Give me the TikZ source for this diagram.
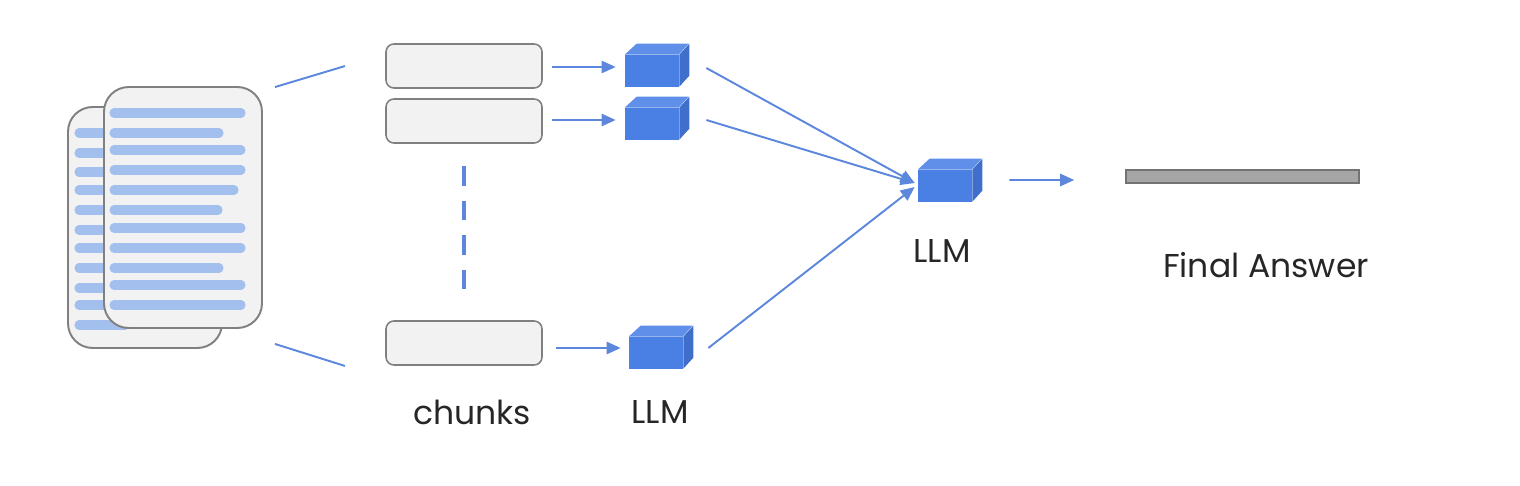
\documentclass[tikz,border=0pt]{standalone}
\usepackage{fontspec}
\setmainfont{Poppins}
\usetikzlibrary{arrows.meta}
\definecolor{llmblue}{HTML}{4A7FE3}
\definecolor{llmtop}{HTML}{5F8FE8}
\definecolor{llmside}{HTML}{3F6FCB}
\definecolor{linkblue}{HTML}{5C87DC}
\definecolor{barblue}{HTML}{A3BFEE}
\tikzset{
	page/.style={draw=black!50,fill=black!5,line width=1.1pt,rounded corners=14pt},
	chunk/.style={draw=black!50,fill=black!5,line width=.9pt,rounded corners=4.5pt,minimum width=3.12cm,minimum height=.88cm},
	cubeface/.style={fill=llmblue,inner sep=0pt,minimum width=1.08cm,minimum height=.64cm},
	link/.style={linkblue,line width=1.1pt},
	arrow/.style={link,-{Triangle[length=8pt,width=7pt]}},
	textbar/.style={barblue,line width=5.2pt,line cap=round},
	label/.style={font=\fontsize{18.8}{22}\selectfont,text=black!85}
}
% front face is the node, top and side are filled round it
\newcommand{\llmcube}[3]{
	\node[cubeface] (#1) at (#2,#3) {};
	\fill[llmtop] (#1.north west) -- ++(12,-11) -- ++(52,0) -- ++(-10,11) -- cycle;
	\fill[llmside] (#1.north east) -- ++(10,-11) -- ++(0,32) -- ++(-10,11) -- cycle;
}
\begin{document}
\begin{tikzpicture}[x=0.02cm,y=-0.02cm]
	\useasboundingbox (0,0) rectangle (1520,486);
	% documents
	\node[page,minimum width=3.08cm,minimum height=4.82cm] (docback) at (145,227.5) {};
	\foreach \y in {133,153,172,190,210,230,248,268,288,305,325}
		\draw[textbar] (79,\y) -- (125,\y);
	\node[page,minimum width=3.16cm,minimum height=4.82cm] (docfront) at (183,207.5) {};
	\foreach \y/\e in {113/241,133/219,150/241,170/241,190/234,210/218,228/241,248/241,268/219,285/241,305/241}
		\draw[textbar] (114,\y) -- (\e,\y);
	% chunks
	\node[chunk] (chunkA) at (464,66) {};
	\node[chunk] (chunkB) at (464,121) {};
	\node[chunk] (chunkC) at (464,343) {};
	\draw[linkblue,line width=2.8pt,dash pattern=on 11.3pt off 8.5pt] ([shift={(0,22)}]chunkB.south) -- ([shift={(0,-31)}]chunkC.north);
	\draw[link] ([shift={(12,1)}]docfront.north east) -- ++(70,-21) coordinate (splitA);
	\draw[link] ([shift={(12,15)}]docfront.south east) -- ++(70,22) coordinate (splitC);
	% models
	\llmcube{cubeA}{652}{71}
	\llmcube{cubeB}{652}{124}
	\llmcube{cubeC}{656}{353}
	\llmcube{cubeD}{945}{186}
	\draw[arrow] ([shift={(9,1)}]chunkA.east) -- ([shift={(-9,-4)}]cubeA.west);
	\draw[arrow] ([shift={(9,-1)}]chunkB.east) -- ([shift={(-9,-4)}]cubeB.west);
	\draw[arrow] ([shift={(13,5)}]chunkC.east) -- ([shift={(-8,-5)}]cubeC.west);
	\draw[arrow] ([shift={(27,-3)}]cubeA.east) -- ([shift={(-3,-3)}]cubeD.west);
	\draw[arrow] ([shift={(27,-4)}]cubeB.east) -- ([shift={(-3,-3)}]cubeD.west);
	\draw[arrow] ([shift={(25,-5)}]cubeC.east) -- ([shift={(-3,1)}]cubeD.west);
	% answer
	\node[draw=black!55,fill=black!35,line width=.9pt,inner sep=0pt,minimum width=4.66cm,minimum height=.26cm] (answer) at (1242.5,176.5) {};
	\draw[arrow] ([shift={(37,-6)}]cubeD.east) -- ([shift={(-51,3.5)}]answer.west);
	% labels
	\node[label] (chunkname) at (472,412) {chunks};
	\node[label] (llmname) at (660,412) {LLM};
	\node[label] (outname) at (942,251) {LLM};
	\node[label] (answername) at (1266,265) {Final Answer};
\end{tikzpicture}
\end{document}
